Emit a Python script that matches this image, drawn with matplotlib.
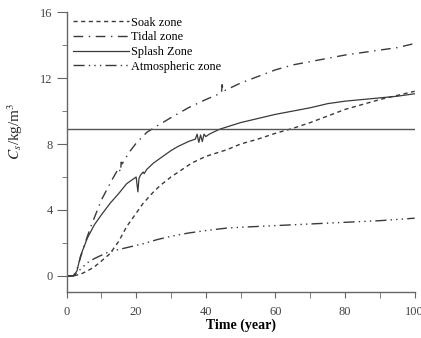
import matplotlib
matplotlib.use("Agg")
import matplotlib.pyplot as plt
from matplotlib.ticker import MultipleLocator

plt.rcParams['font.family'] = ['Liberation Serif', 'DejaVu Serif']
plt.rcParams['mathtext.fontset'] = 'stix'

# Soak zone
soak_t = [0, 2, 4, 6, 8, 10, 12.5, 15, 17.3, 20, 22, 25, 27, 30, 36, 40, 46, 50,
          55, 60, 65, 70, 80, 90, 100]
soak_v = [0, 0, 0.1, 0.3, 0.55, 0.9, 1.35, 2.1, 3.0, 3.8, 4.4, 5.1, 5.5, 6.0, 6.85,
          7.25, 7.65, 8.0, 8.3, 8.65, 8.95, 9.3, 10.1, 10.7, 11.2]

# Tidal zone
tidal_t = [0, 2, 3, 5, 7, 10, 13, 15, 15.5, 15.7, 16, 18, 20, 23, 26, 30, 35, 40,
           44.5, 44.7, 45, 50, 55, 60, 65, 70, 75, 80, 85, 90, 95, 100]
tidal_v = [0, 0, 0.4, 1.8, 3.0, 4.6, 5.8, 6.55, 6.3, 6.9, 6.8, 7.5, 8.05, 8.7, 9.1,
           9.6, 10.2, 10.7, 11.1, 11.6, 11.2, 11.7, 12.1, 12.5, 12.8, 13.0, 13.2,
           13.4, 13.55, 13.7, 13.85, 14.1]

# Splash zone
splash_t = [0, 2, 3, 4, 6, 8, 10, 12.5, 15, 17.3, 20, 20.5, 20.8, 21.2, 22, 22.3,
            23, 25, 27, 30, 32, 35, 37, 37.5, 38, 38.5, 39, 39.5, 40, 41, 44, 50,
            55, 60, 65, 70, 75, 80, 85, 90, 95, 100]
splash_v = [0, 0, 0.3, 1.2, 2.3, 3.1, 3.7, 4.4, 5.0, 5.6, 6.0, 5.1, 5.9, 6.1, 6.3,
            6.2, 6.45, 6.85, 7.15, 7.6, 7.85, 8.15, 8.3, 8.6, 8.1, 8.55, 8.15, 8.6,
            8.45, 8.6, 8.9, 9.3, 9.55, 9.8, 10.0, 10.2, 10.45, 10.6, 10.7, 10.8,
            10.9, 11.05]

# Atmospheric zone
atmo_t = [0, 2, 4, 6, 8, 10, 12, 15, 18, 22, 26, 30, 35, 40, 46, 50, 55, 60, 70,
          80, 90, 100]
atmo_v = [0, 0, 0.4, 0.8, 1.05, 1.25, 1.45, 1.6, 1.75, 1.95, 2.2, 2.4, 2.6, 2.75,
          2.9, 2.95, 3.0, 3.05, 3.15, 3.25, 3.35, 3.5]

threshold = 8.9

fig = plt.figure(figsize=(4.21, 3.38), dpi=100)
ax = fig.add_axes([0.158, 0.135, 0.827, 0.829])

lc = '#3a3a3a'
ax.plot(soak_t, soak_v, color=lc, lw=1, dashes=(3, 2.5), label='Soak zone')
ax.plot(tidal_t, tidal_v, color=lc, lw=1, dashes=(7, 4, 1, 4), label='Tidal zone')
ax.plot(splash_t, splash_v, color=lc, lw=0.9, label='Splash Zone')
ax.plot(atmo_t, atmo_v, color=lc, lw=1, dashes=(8, 3, 1, 3, 1, 3, 1, 3),
        label='Atmospheric zone')
ax.axhline(threshold, color='#555555', lw=1)

ax.set_xlim(0, 100)
ax.set_ylim(-1, 16)
ax.spines['top'].set_visible(False)
ax.spines['right'].set_visible(False)
for s in ['left', 'bottom']:
    ax.spines[s].set_color('#666666')
    ax.spines[s].set_linewidth(1)

ax.xaxis.set_major_locator(MultipleLocator(20))
ax.xaxis.set_minor_locator(MultipleLocator(10))
ax.yaxis.set_minor_locator(MultipleLocator(2))
ax.set_yticks([0, 4, 8, 12, 16])
ax.tick_params(axis='x', which='both', direction='out', length=4, color='#666666',
               labelsize=9, labelcolor='#444444', pad=6)
ax.tick_params(axis='y', which='major', direction='out', length=7, color='#666666',
               labelsize=9, labelcolor='#444444', pad=3)
ax.tick_params(axis='y', which='minor', direction='out', length=3.5, color='#666666')

ax.set_xlabel('Time (year)', fontsize=10, fontweight='bold', labelpad=0)
ax.set_ylabel(r'$C_s$/kg/m$^3$', fontsize=11, color='#2a2a2a', labelpad=6)
ax.yaxis.set_label_coords(-0.12, 0.575)

ax.legend(loc='upper left', bbox_to_anchor=(-0.003, 1.01), frameon=False,
          fontsize=8.8, handlelength=4.6, handletextpad=0.2, labelspacing=0.22,
          borderaxespad=0.2)

fig.savefig('out.png', dpi=100)
